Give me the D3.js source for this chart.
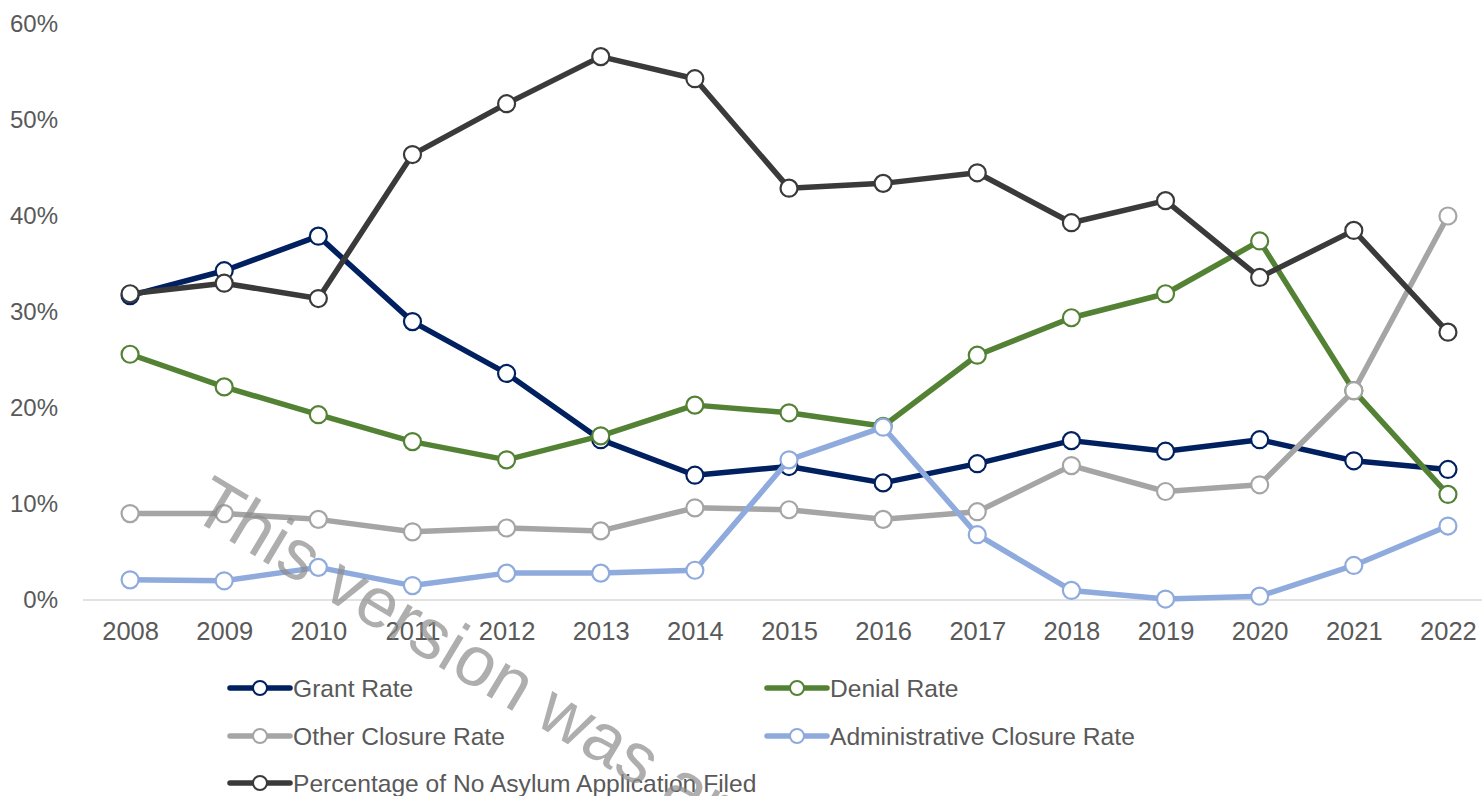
<!DOCTYPE html>
<html>
<head>
<meta charset="utf-8">
<script src="https://cdn.jsdelivr.net/npm/d3@7"></script>
<style>
  body { margin: 0; background: #fff; }
  text { font-family: "Liberation Sans", Arial, sans-serif; fill: #595959; }
</style>
</head>
<body>
<div id="chart"></div>
<script>
// Datos
const years = ["2008","2009","2010","2011","2012","2013","2014","2015","2016","2017","2018","2019","2020","2021","2022"]
const grantRate     = [31.7, 34.3, 37.9, 29.0, 23.6, 16.7, 13.0, 13.9, 12.2, 14.2, 16.6, 15.5, 16.7, 14.5, 13.6]
const denialRate    = [25.6, 22.2, 19.3, 16.5, 14.6, 17.1, 20.3, 19.5, 18.1, 25.5, 29.4, 31.9, 37.4, 21.8, 11.0]
const otherClosure  = [9.0, 9.0, 8.4, 7.1, 7.5, 7.2, 9.6, 9.4, 8.4, 9.2, 14.0, 11.3, 12.0, 21.8, 40.0]
const adminClosure  = [2.1, 2.0, 3.4, 1.5, 2.8, 2.8, 3.1, 14.6, 18.0, 6.8, 1.0, 0.1, 0.4, 3.6, 7.7]
const noAsylum      = [31.9, 33.0, 31.4, 46.4, 51.7, 56.6, 54.3, 42.9, 43.4, 44.5, 39.3, 41.6, 33.6, 38.5, 27.9]
const yTicks = [0, 10, 20, 30, 40, 50, 60]

const series = [
  {name: "Grant Rate", values: grantRate, color: "#002060"},
  {name: "Denial Rate", values: denialRate, color: "#548235"},
  {name: "Other Closure Rate", values: otherClosure, color: "#A5A5A5"},
  {name: "Administrative Closure Rate", values: adminClosure, color: "#8FAADC"},
  {name: "Percentage of No Asylum Application Filed", values: noAsylum, color: "#3A3A3A"}
]

const width = 1482, height = 796

const svg = d3.select("#chart")
  .append("svg")
    .attr("width", width)
    .attr("height", height)

// Escalas
const x = d3.scalePoint().domain(years).range([83, 1495]).padding(0.5)
const y = d3.scaleLinear().domain([0, 60]).range([600, 24])

// Eje Y (solo etiquetas)
svg.append("g")
  .selectAll("text")
  .data(yTicks)
  .join("text")
    .attr("x", 58)
    .attr("y", d => y(d))
    .attr("dy", "0.35em")
    .attr("text-anchor", "end")
    .style("font-size", "24px")
    .text(d => d + "%")

// Línea base
svg.append("line")
  .attr("x1", 83).attr("x2", width)
  .attr("y1", y(0)).attr("y2", y(0))
  .attr("stroke", "#D9D9D9")
  .attr("stroke-width", 1.5)

// Eje X
const xAxis = svg.append("g")
  .attr("transform", `translate(0, ${y(0)})`)
  .call(d3.axisBottom(x).tickSize(0).tickPadding(22))
xAxis.select(".domain").remove()
xAxis.selectAll("text")
  .style("font-size", "25.5px")
  .style("font-family", "'Liberation Sans', Arial, sans-serif")
  .attr("fill", "#595959")

// Líneas y marcadores
const line = d3.line()
  .x((d, i) => x(years[i]))
  .y(d => y(d))

series.forEach(s => {
  const g = svg.append("g")
  g.append("path")
    .datum(s.values)
    .attr("fill", "none")
    .attr("stroke", s.color)
    .attr("stroke-width", 5.5)
    .attr("stroke-linejoin", "round")
    .attr("d", line)
  g.selectAll("circle")
    .data(s.values)
    .join("circle")
      .attr("cx", (d, i) => x(years[i]))
      .attr("cy", d => y(d))
      .attr("r", 8.5)
      .attr("fill", "#fff")
      .attr("stroke", s.color)
      .attr("stroke-width", 2.2)
})

// Leyenda
const legendPos = [
  {x: 230, y: 688}, {x: 767, y: 688},
  {x: 230, y: 736}, {x: 767, y: 736},
  {x: 230, y: 783}
]
const legend = svg.append("g")
series.forEach((s, i) => {
  const p = legendPos[i]
  const item = legend.append("g").attr("transform", `translate(${p.x}, ${p.y})`)
  item.append("line")
    .attr("x1", 0).attr("x2", 60)
    .attr("stroke", s.color)
    .attr("stroke-width", 5.5)
    .attr("stroke-linecap", "round")
  item.append("circle")
    .attr("cx", 30)
    .attr("r", 7)
    .attr("fill", "#fff")
    .attr("stroke", s.color)
    .attr("stroke-width", 2)
  item.append("text")
    .attr("x", 63)
    .attr("dy", "0.35em")
    .style("font-size", "24.6px")
    .text(s.name)
})

// Marca de agua
svg.append("text")
  .attr("transform", "translate(188, 516) rotate(31)")
  .style("font-size", "71px")
  .style("fill", "#8C8C8C")
  .style("fill-opacity", 0.7)
  .text("This version was archived")
</script>
</body>
</html>
